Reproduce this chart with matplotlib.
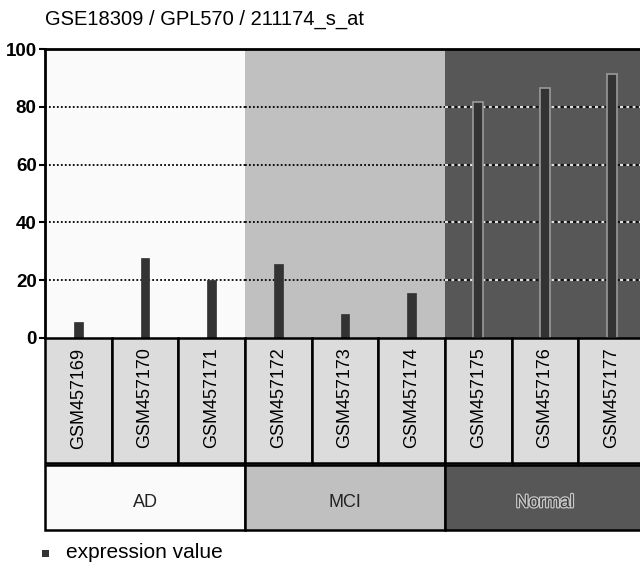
import matplotlib.pyplot as plt
from matplotlib.patches import Rectangle
import matplotlib.patheffects as pe

title = "GSE18309 / GPL570 / 211174_s_at"
samples = ["GSM457169", "GSM457170", "GSM457171", "GSM457172", "GSM457173",
           "GSM457174", "GSM457175", "GSM457176", "GSM457177"]
values = [5.5, 27.7, 20.0, 25.5, 8.3, 15.6, 81.5, 86.4, 91.3]
groups = ["AD", "MCI", "Normal"]
group_sizes = [3, 3, 3]
yticks = [0, 20, 40, 60, 80, 100]

group_bg = ["#fafafa", "#c0c0c0", "#575757"]
group_edge = ["#333333", "#333333", "#9a9a9a"]

W, H = 640, 570
fig = plt.figure(figsize=(6.4, 5.7), dpi=100)
plt.rcParams['font.family'] = ['Liberation Sans', 'DejaVu Sans']

x_left = 45
x_right = 645  # last column is cut at the image edge
xmin, xmax = -0.5, len(samples) - 0.5

def fx(px):
    return px / W

def fy(py):
    return 1 - py / H

ax = fig.add_axes([fx(x_left), fy(338), fx(x_right - x_left), fy(49) - fy(338)])
ax.set_xlim(xmin, xmax)
ax.set_ylim(0, 100)

# group backgrounds, grid and bars
start = 0
for g, n in enumerate(group_sizes):
    ax.axvspan(start - 0.5, start + n - 0.5, color=group_bg[g], zorder=0, lw=0)
    for yt in yticks[1:-1]:
        if g == 2:
            ax.hlines(yt, start - 0.5, start + n - 0.5, colors="#e0e0e0",
                      linestyles=(0, (1.5, 1.5)), lw=1.5, zorder=1)
            ax.hlines(yt, start - 0.5, start + n - 0.5, colors="#111111",
                      linestyles=(1.5, (1.5, 1.5)), lw=1.5, zorder=1)
        else:
            ax.hlines(yt, start - 0.5, start + n - 0.5, colors="black",
                      linestyles=(0, (1, 1.2)), lw=1.3, zorder=1)
    xs = list(range(start, start + n))
    ax.bar(xs, values[start:start + n], width=0.15 if g == 2 else 0.13,
           color="#333333", edgecolor=group_edge[g],
           linewidth=1.2 if g == 2 else 0.5, zorder=2)
    start += n

ax.set_yticks(yticks)
ax.set_yticklabels([str(v) for v in yticks], fontsize=13.5, fontweight='bold')
ax.tick_params(axis='y', length=4, width=1.5, pad=2)
ax.set_xticks([])
for s in ['right', 'bottom']:
    ax.spines[s].set_visible(False)
ax.spines['left'].set_linewidth(2)
ax.spines['top'].set_linewidth(2)

# sample label boxes
ax2 = fig.add_axes([fx(x_left), fy(463), fx(x_right - x_left), fy(338) - fy(463)])
ax2.set_xlim(xmin, xmax)
ax2.set_ylim(0, 1)
ax2.axis('off')
for i, s in enumerate(samples):
    ax2.add_patch(Rectangle((i - 0.5, 0), 1, 1, facecolor="#dcdcdc",
                            edgecolor="black", lw=1.8, clip_on=False))
    ax2.text(i, 0.52, s, rotation=90, ha='center', va='center', fontsize=13)

# group label boxes
ax3 = fig.add_axes([fx(x_left), fy(530), fx(x_right - x_left), fy(465) - fy(530)])
ax3.set_xlim(xmin, xmax)
ax3.set_ylim(0, 1)
ax3.axis('off')
start = 0
for g, n in enumerate(group_sizes):
    ax3.add_patch(Rectangle((start - 0.5, 0), n, 1, facecolor=group_bg[g],
                            edgecolor="black", lw=1.8, clip_on=False))
    t = ax3.text(start + (n - 1) / 2, 0.42, groups[g], ha='center', va='center',
                 fontsize=13, color="#222222")
    if g == 2:
        t.set_color("#3a3a3a")
        t.set_path_effects([pe.withStroke(linewidth=1.8, foreground="#c8c8c8")])
    start += n

# title and legend
fig.text(fx(45), fy(19), title, fontsize=14.5, va='center', ha='left')
fig.patches.append(Rectangle((fx(42), fy(557)), fx(7), fy(550) - fy(557),
                             transform=fig.transFigure, facecolor="#333333",
                             edgecolor="none", figure=fig))
fig.text(fx(66), fy(553), "expression value", fontsize=15, va='center', ha='left')

fig.savefig("out.png", dpi=100)
